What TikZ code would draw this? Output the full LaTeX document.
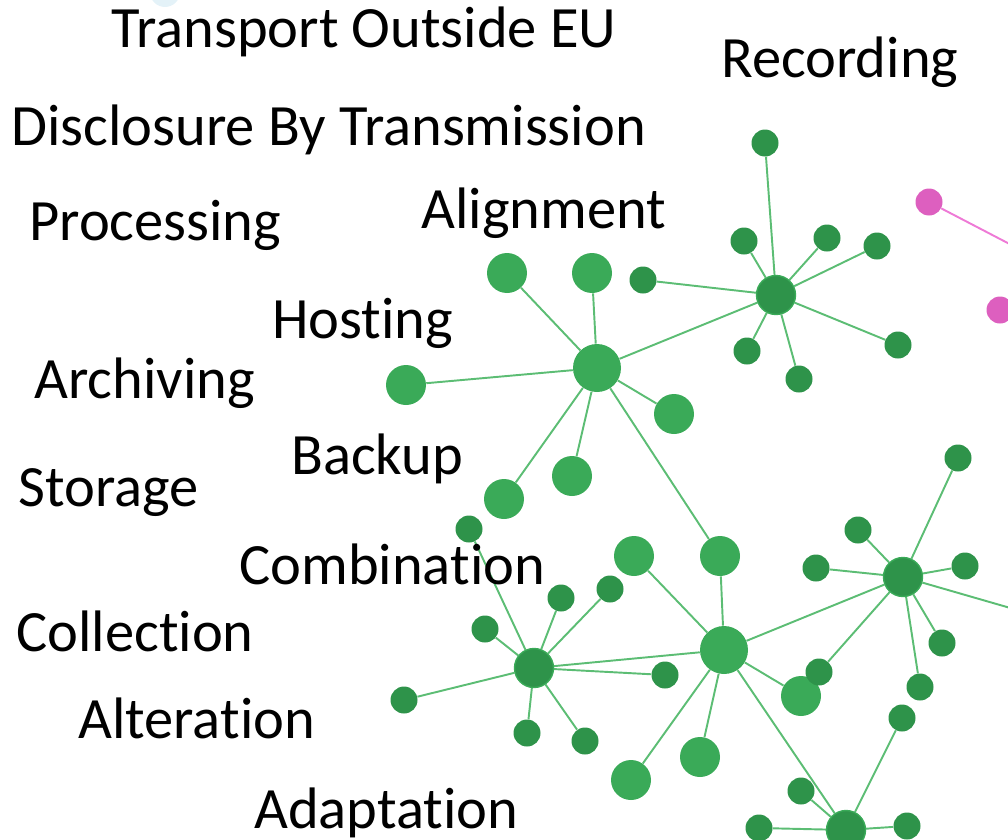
\documentclass[tikz,border=0pt]{standalone}
\usepackage{fontspec}
\setmainfont[Ligatures=NoCommon]{Carlito}
\usetikzlibrary{backgrounds}
\definecolor{lightnode}{HTML}{3AAA58}
\definecolor{darknode}{HTML}{2E934A}
\definecolor{edgegreen}{HTML}{5CBD74}
\definecolor{pinknode}{HTML}{DD5FBF}
\definecolor{pinkedge}{HTML}{EE7AD6}
\definecolor{faintblue}{HTML}{E4F2F8}
\tikzset{
  bignode/.style={circle, inner sep=0pt, fill=lightnode, minimum size=0.8cm},
  bighub/.style={circle, inner sep=0pt, fill=lightnode, minimum size=0.96cm},
  smallnode/.style={circle, inner sep=0pt, fill=darknode, minimum size=0.54cm},
  darkhub/.style={circle, inner sep=0pt, fill=darknode, draw=lightnode, line width=0.8pt, minimum size=0.78cm},
  pinkdot/.style={circle, inner sep=0pt, fill=pinknode, minimum size=0.54cm},
  link/.style={draw=edgegreen, line width=1.1pt},
  pinklink/.style={draw=pinkedge, line width=1.1pt},
  term/.style={anchor=base west, inner sep=0pt, font=\fontsize{33.3}{40}\selectfont}
}
\begin{document}
\begin{tikzpicture}[x=0.02cm, y=-0.02cm]
  \useasboundingbox (0,0) rectangle (1008,839);
  \clip (0,0) rectangle (1008,839);

  % Faint node cut by the top edge
  \node [circle, inner sep=0pt, fill=faintblue, minimum size=0.6cm] (ghost) at (165,-8) {};

  % Marking terms
  \node [term] (transport) at (111,47) {Transport Outside EU};
  \node [term] (recording) at (721,77) {Recording};
  \node [term] (disclosure) at (11,145) {Disclosure By Transmission};
  \node [term] (processing) at (29,240) {Processing};
  \node [term] (alignment) at (421,228) {Alignment};
  \node [term] (hosting) at (272,338) {Hosting};
  \node [term] (archiving) at (34,398) {Archiving};
  \node [term] (backup) at (291,474) {Backup};
  \node [term] (storage) at (18,506) {Storage};
  \node [term] (combination) at (239,584) {Combination};
  \node [term] (collection) at (16,651) {Collection};
  \node [term] (alteration) at (78,738) {Alteration};
  \node [term] (adaptation) at (254,828) {Adaptation};

  % Recording cluster
  \node [darkhub] (rhub) at (776,295) {};
  \node [smallnode] (r1) at (765,143) {};
  \node [smallnode] (r2) at (744,241) {};
  \node [smallnode] (r3) at (827,238) {};
  \node [smallnode] (r4) at (877,246) {};
  \node [smallnode] (r5) at (643,280) {};
  \node [smallnode] (r6) at (747,351) {};
  \node [smallnode] (r7) at (799,379) {};
  \node [smallnode] (r8) at (898,345) {};

  % Hosting cluster
  \node [bighub] (hhub) at (597,368) {};
  \node [bignode] (h1) at (507,273) {};
  \node [bignode] (h2) at (592,273) {};
  \node [bignode] (h3) at (406,385) {};
  \node [bignode] (h4) at (674,414) {};
  \node [bignode] (h5) at (572,476) {};
  \node [bignode] (h6) at (504,499) {};

  % Combination cluster
  \node [bighub] (chub) at (724,650) {};
  \node [bignode] (c1) at (634,556) {};
  \node [bignode] (c2) at (720,556) {};
  \node [bignode] (c3) at (801,696) {};
  \node [bignode] (c4) at (700,757) {};
  \node [bignode] (c5) at (631,780) {};

  % Collection cluster
  \node [darkhub] (lhub) at (534,668) {};
  \node [smallnode] (l1) at (469,529) {};
  \node [smallnode] (l2) at (485,629) {};
  \node [smallnode] (l3) at (561,598) {};
  \node [smallnode] (l4) at (610,589) {};
  \node [smallnode] (l5) at (404,700) {};
  \node [smallnode] (l6) at (527,733) {};
  \node [smallnode] (l7) at (585,741) {};
  \node [smallnode] (l8) at (665,675) {};

  % Right cluster
  \node [darkhub] (dhub) at (903,577) {};
  \node [smallnode] (d1) at (958,458) {};
  \node [smallnode] (d2) at (858,530) {};
  \node [smallnode] (d3) at (816,568) {};
  \node [smallnode] (d4) at (965,566) {};
  \node [smallnode] (d5) at (942,643) {};
  \node [smallnode] (d6) at (920,687) {};
  \node [smallnode] (d7) at (819,672) {};
  \node [smallnode] (d8) at (1045,618) {};

  % Bottom cluster
  \node [darkhub] (ehub) at (846,830) {};
  \node [smallnode] (e1) at (759,828) {};
  \node [smallnode] (e2) at (907,826) {};
  \node [smallnode] (e3) at (801,791) {};
  \node [smallnode] (e4) at (902,718) {};

  % Pink nodes
  \node [pinkdot] (p1) at (929,202) {};
  \node [pinkdot] (p2) at (1000,310) {};
  \node [pinkdot] (p3) at (1048,264) {};

  \begin{pgfonlayer}{background}
    % Drawing links
    \path [link] (rhub) -- (r1) (rhub) -- (r2) (rhub) -- (r3) (rhub) -- (r4)
                 (rhub) -- (r5) (rhub) -- (r6) (rhub) -- (r7) (rhub) -- (r8);
    \path [link] (rhub) -- (hhub);
    \path [link] (hhub) -- (h1) (hhub) -- (h2) (hhub) -- (h3) (hhub) -- (h4)
                 (hhub) -- (h5) (hhub) -- (h6);
    \path [link] (hhub) -- (c2);
    \path [link] (chub) -- (c1) (chub) -- (c2) (chub) -- (c3) (chub) -- (c4)
                 (chub) -- (c5);
    \path [link] (chub) -- (lhub) (chub) -- (dhub) (chub) -- (ehub);
    \path [link] (lhub) -- (l1) (lhub) -- (l2) (lhub) -- (l3) (lhub) -- (l4)
                 (lhub) -- (l5) (lhub) -- (l6) (lhub) -- (l7) (lhub) -- (l8);
    \path [link] (dhub) -- (d1) (dhub) -- (d2) (dhub) -- (d3) (dhub) -- (d4)
                 (dhub) -- (d5) (dhub) -- (d6) (dhub) -- (d7) (dhub) -- (d8);
    \path [link] (ehub) -- (e1) (ehub) -- (e2) (ehub) -- (e3) (ehub) -- (e4);
    \path [pinklink] (p1) -- (p3);
  \end{pgfonlayer}
\end{tikzpicture}
\end{document}
